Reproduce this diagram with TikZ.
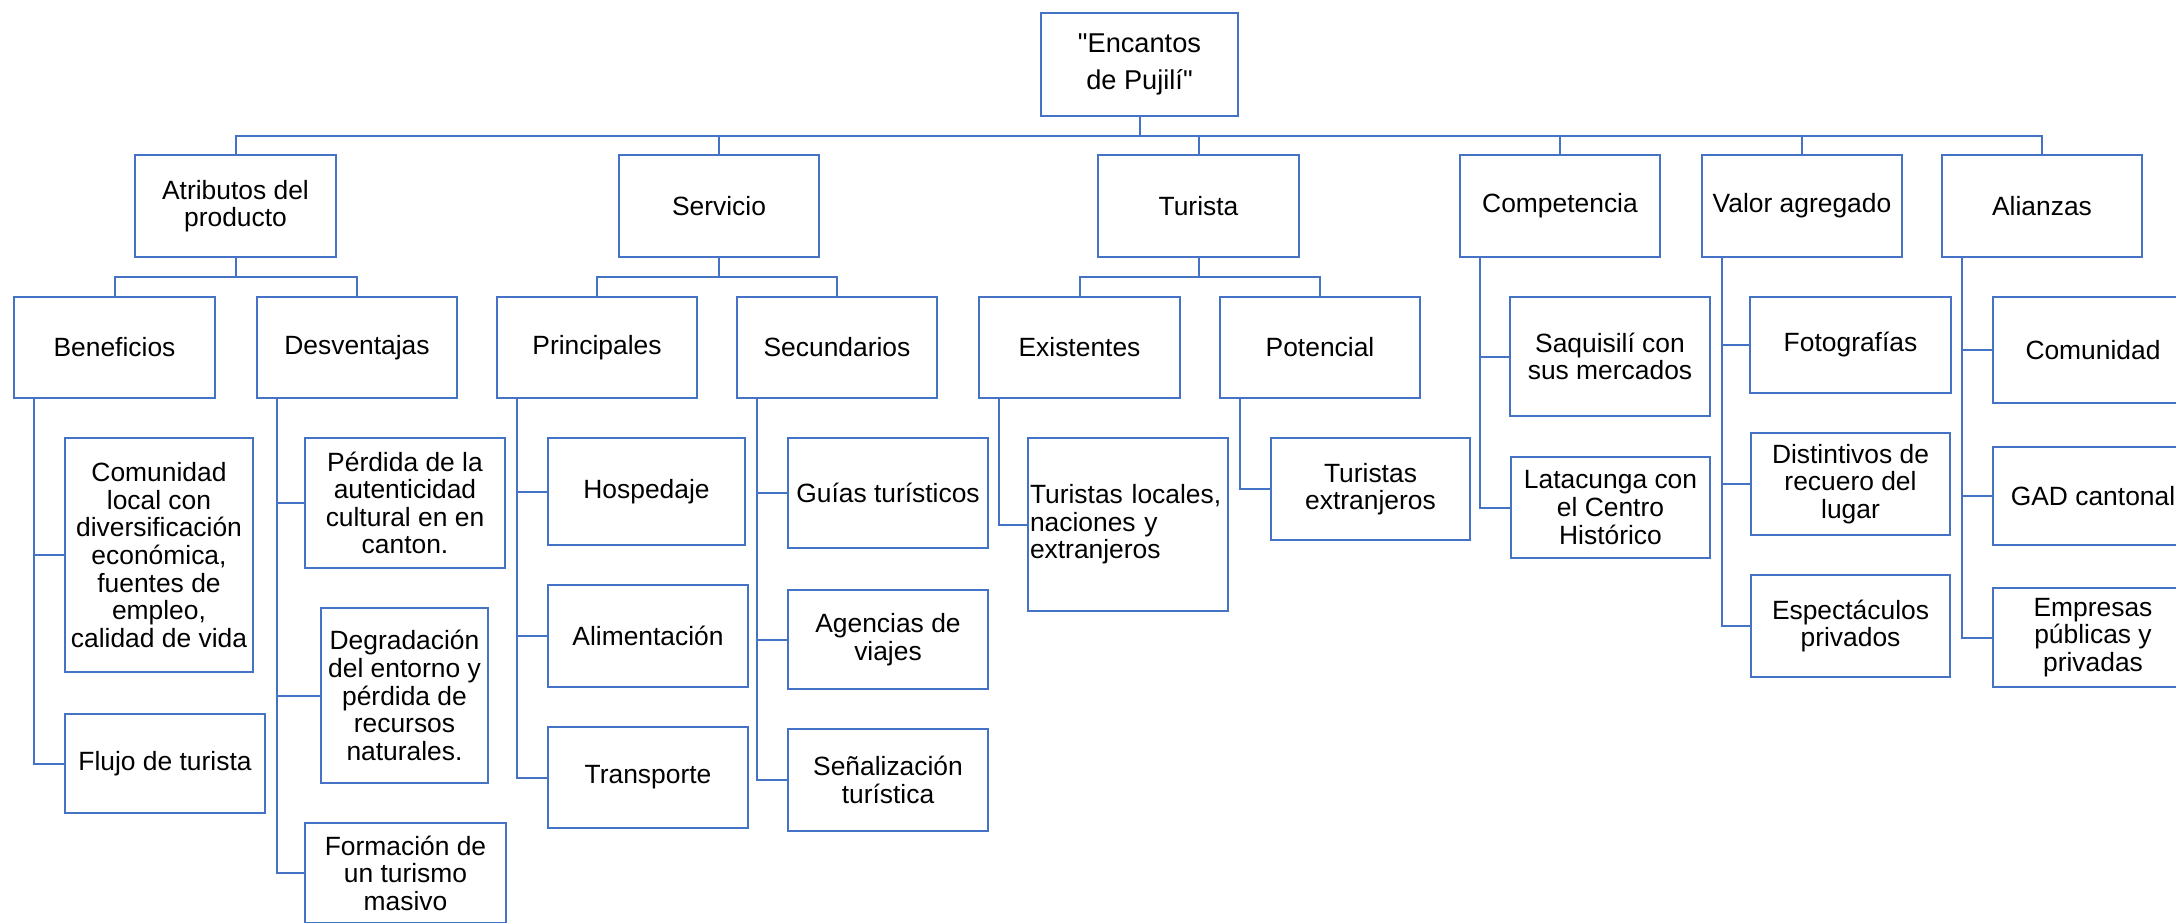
\documentclass[tikz,border=0pt]{standalone}
\usepackage{fontspec}
\setmainfont{Liberation Sans}[Ligatures=TeXOff]
\definecolor{ln}{HTML}{4472C4}
\begin{document}
\begin{tikzpicture}[x=0.5pt,y=-0.5pt,
  box/.style={draw=ln,line width=1pt,fill=white,align=center,inner sep=1pt,
    font=\fontsize{13.2pt}{13.8pt}\selectfont},
  bx/.style 2 args={minimum width=#1*0.5pt,minimum height=#2*0.5pt},
  conn/.style={draw=ln,line width=1pt}]
\path[use as bounding box,clip] (0,0) rectangle (2176,922);
\fill[white] (0,0) rectangle (2176,922);
\coordinate (bus) at (0,136);
\coordinate (sbus) at (0,277);
% root
\node[box,bx={197}{103},font=\fontsize{13.6pt}{18.5pt}\selectfont] (root) at (1139.5,64.5) {"Encantos\\de Pujilí"};
% level 1
\node[box,bx={201}{102}] (atr) at (235.5,206) {Atributos del\\producto};
\node[box,bx={200}{102}] (serv) at (719,206) {Servicio};
\node[box,bx={201}{102}] (tur) at (1198.5,206) {Turista};
\node[box,bx={200}{102}] (comp) at (1560,206) {Competencia};
\node[box,bx={200}{102}] (val) at (1802,206) {Valor agregado};
\node[box,bx={200}{102}] (ali) at (2042,206) {Alianzas};
% level 2
\node[box,bx={201}{101}] (benef) at (114.5,347.5) {Beneficios};
\node[box,bx={200}{101}] (desv) at (357,347.5) {Desventajas};
\node[box,bx={200}{101}] (princ) at (597,347.5) {Principales};
\node[box,bx={200}{101}] (sec) at (837,347.5) {Secundarios};
\node[box,bx={201}{101}] (exist) at (1079.5,347.5) {Existentes};
\node[box,bx={200}{101}] (pot) at (1320,347.5) {Potencial};
% level 3
\node[box,bx={188}{234}] (b1) at (159,555) {Comunidad\\local con\\diversificación\\económica,\\fuentes de\\empleo,\\calidad de vida};
\node[box,bx={200}{99}] (b2) at (165,763.5) {Flujo de turista};
\node[box,bx={200}{130}] (d1) at (405,503) {Pérdida de la\\autenticidad\\cultural en en\\canton.};
\node[box,bx={167}{175}] (d2) at (404.5,695.5) {Degradación\\del entorno y\\pérdida de\\recursos\\naturales.};
\node[box,bx={201}{100}] (d3) at (405.5,873) {Formación de\\un turismo\\masivo};
\node[box,bx={197}{107}] (p1) at (646.5,491.5) {Hospedaje};
\node[box,bx={200}{102}] (p2) at (648,636) {Alimentación};
\node[box,bx={200}{101}] (p3) at (648,777.5) {Transporte};
\node[box,bx={200}{110}] (s1) at (888,493) {Guías turísticos};
\node[box,bx={200}{99}] (s2) at (888,639.5) {Agencias de\\viajes};
\node[box,bx={200}{102}] (s3) at (888,780) {Señalización\\turística};
\node[box,bx={200}{173},align=left,text width=98pt,inner xsep=1pt] (e1) at (1128,524.5) {Turistas locales,\\naciones y\\extranjeros};
\node[box,bx={199}{102}] (t1) at (1370.5,489) {Turistas\\extranjeros};
\node[box,bx={200}{119}] (c1) at (1610,356.5) {Saquisilí con\\sus mercados};
\node[box,bx={199}{101}] (c2) at (1610.5,507.5) {Latacunga con\\el Centro\\Histórico};
\node[box,bx={201}{96}] (v1) at (1850.5,345) {Fotografías};
\node[box,bx={199}{102}] (v2) at (1850.5,484) {Distintivos de\\recuero del\\lugar};
\node[box,bx={199}{102}] (v3) at (1850.5,626) {Espectáculos\\privados};
\node[box,bx={200}{106}] (a1) at (2093,350) {Comunidad};
\node[box,bx={200}{98}] (a2) at (2093,496) {GAD cantonal};
\node[box,bx={200}{99}] (a3) at (2093,637.5) {Empresas\\públicas y\\privadas};
% top bus
\foreach \c in {atr,serv,tur,comp,val,ali}
  \draw[conn] (root.south) -- (root.south |- bus) -| (\c.north);
% sub buses
\foreach \p/\c in {atr/benef,atr/desv,serv/princ,serv/sec,tur/exist,tur/pot}
  \draw[conn] (\p.south) -- (\p.south |- sbus) -| (\c.north);
% side connectors
\foreach \p/\c in {benef/b1,benef/b2,desv/d1,desv/d2,desv/d3,princ/p1,princ/p2,princ/p3,
  sec/s1,sec/s2,sec/s3,exist/e1,pot/t1,comp/c1,comp/c2,val/v1,val/v2,val/v3,ali/a1,ali/a2,ali/a3}
  \draw[conn] ([xshift=10.5pt]\p.south west) |- (\c.west);
\end{tikzpicture}
\end{document}
